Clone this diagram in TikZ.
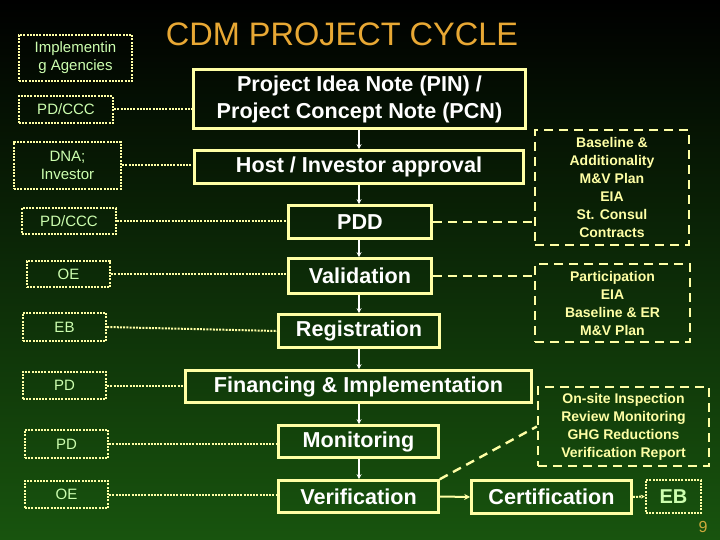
\documentclass[tikz,border=0pt]{standalone}
\usepackage{fontspec}
\setmainfont{Liberation Sans}
\usetikzlibrary{arrows.meta}
\definecolor{bggreen}{RGB}{24,84,14}
\definecolor{boxyellow}{RGB}{255,255,165}
\definecolor{palegreen}{RGB}{205,255,175}
\definecolor{titlegold}{RGB}{232,168,52}
\definecolor{pagegold}{RGB}{205,170,60}
\tikzset{
  mainbox/.style={draw=boxyellow, line width=2.6pt, text=white, inner sep=0pt, align=center,
    font=\bfseries\fontsize{21.6}{27}\selectfont},
  leftbox/.style={draw=boxyellow, line width=2.4pt, dash pattern=on 2pt off 1.2pt, text=palegreen,
    inner sep=0pt, align=center, font=\fontsize{15}{18}\selectfont},
  rightbox/.style={draw=boxyellow, line width=2.4pt, dash pattern=on 9pt off 6pt, text=boxyellow,
    inner sep=0pt, align=center, font=\bfseries\fontsize{14}{18}\selectfont},
  dotline/.style={draw=boxyellow, line width=2pt, dash pattern=on 2pt off 1.2pt},
  dashline/.style={draw=boxyellow, line width=2.4pt, dash pattern=on 9pt off 6pt},
  flow/.style={draw=white, line width=1.3pt, -{Stealth[length=5pt,width=5pt]}},
}
\begin{document}
\begin{tikzpicture}[x=1pt,y=-1pt]
\useasboundingbox (0,0) rectangle (720,540);
\shade[top color=black, bottom color=bggreen] (0,0) rectangle (720,540);

% title
\node[text=titlegold, font=\fontsize{32.5}{36}\selectfont] (title) at (342,34) {CDM PROJECT CYCLE};

% main boxes
\node[mainbox, minimum width=332pt, minimum height=59pt] (pin) at (359.5,99) {Project Idea Note (PIN) /\\Project Concept Note (PCN)};
\node[mainbox, minimum width=329pt, minimum height=33pt] (host) at (359,167) {Host / Investor approval};
\node[mainbox, minimum width=143pt, minimum height=33pt] (pdd) at (360,222) {PDD};
\node[mainbox, minimum width=143pt, minimum height=35pt] (val) at (360,276) {Validation};
\node[mainbox, minimum width=161pt, minimum height=33pt] (reg) at (359,331) {Registration};
\node[mainbox, minimum width=346pt, minimum height=32pt] (fin) at (358.5,386.5) {Financing \& Implementation};
\node[mainbox, minimum width=160pt, minimum height=32pt] (mon) at (358.5,441.5) {Monitoring};
\node[mainbox, minimum width=160pt, minimum height=32pt] (ver) at (358.5,496.5) {Verification};
\node[mainbox, minimum width=160pt, minimum height=33pt] (cert) at (551.5,497) {Certification};

% left boxes
\node[leftbox, minimum width=113pt, minimum height=46pt] (ia) at (75.5,58) {Implementin\\g Agencies};
\node[leftbox, minimum width=94pt, minimum height=27pt] (l1) at (66,109.5) {PD/CCC};
\node[leftbox, minimum width=107pt, minimum height=47pt] (l2) at (67.5,165.5) {DNA;\\Investor};
\node[leftbox, minimum width=94pt, minimum height=26pt] (l3) at (69,221) {PD/CCC};
\node[leftbox, minimum width=83pt, minimum height=26pt] (l4) at (68.5,274) {OE};
\node[leftbox, minimum width=83pt, minimum height=28pt] (l5) at (64.5,327) {EB};
\node[leftbox, minimum width=83pt, minimum height=27pt] (l6) at (64.5,385.5) {PD};
\node[leftbox, minimum width=83pt, minimum height=28pt] (l7) at (66.5,444) {PD};
\node[leftbox, minimum width=83pt, minimum height=27pt] (l8) at (66.5,494.5) {OE};

% right dashed boxes
\node[rightbox, minimum width=154pt, minimum height=115pt] (bas) at (612,187.5)
  {Baseline \&\\Additionality\\M\&V Plan\\EIA\\St. Consul\\Contracts};
\node[rightbox, minimum width=155pt, minimum height=78pt] (par) at (612.5,303)
  {Participation\\EIA\\Baseline \& ER\\M\&V Plan};
\node[rightbox, minimum width=171pt, minimum height=79pt] (ons) at (623.5,426.5)
  {On-site Inspection\\Review Monitoring\\GHG Reductions\\Verification Report};

% EB box
\node[leftbox, minimum width=55pt, minimum height=33pt, font=\bfseries\fontsize{20}{24}\selectfont] (eb) at (673.5,496.5) {EB};

% page number
\node[text=pagegold, font=\fontsize{16}{18}\selectfont] (pg) at (703,527) {9};

% flow arrows
\draw[flow] (pin.south -| 359,0) -- (host.north -| 359,0);
\draw[flow] (host.south -| 359,0) -- (pdd.north -| 359,0);
\draw[flow] (pdd.south -| 359,0) -- (val.north -| 359,0);
\draw[flow] (val.south -| 359,0) -- (reg.north -| 359,0);
\draw[flow] (reg.south -| 359,0) -- (fin.north -| 359,0);
\draw[flow] (fin.south -| 359,0) -- (mon.north -| 359,0);
\draw[flow] (mon.south -| 359,0) -- (ver.north -| 359,0);

% left connectors
\draw[dotline] (l1.east) -- (l1.east -| pin.west);
\draw[dotline] (l2.east) -- (l2.east -| host.west);
\draw[dotline] (l3.east) -- (l3.east -| pdd.west);
\draw[dotline] (l4.east) -- (l4.east -| val.west);
\draw[dotline] (l5.east) -- (reg.west);
\draw[dotline] (l6.east) -- (l6.east -| fin.west);
\draw[dotline] (l7.east) -- (l7.east -| mon.west);
\draw[dotline] (l8.east) -- (l8.east -| ver.west);

% right connectors
\draw[dashline] (pdd.east) -- (pdd.east -| bas.west);
\draw[dashline] (val.east) -- (val.east -| par.west);
\draw[dashline] (ver.north east) -- (ons.west);
\draw[draw=boxyellow, line width=2pt, -{Stealth[length=6pt,width=6pt]}] (ver.east) -- (cert.west);
\draw[dotline, -{Stealth[length=4pt,width=4pt]}] (cert.east) -- (eb.west);
\end{tikzpicture}
\end{document}
